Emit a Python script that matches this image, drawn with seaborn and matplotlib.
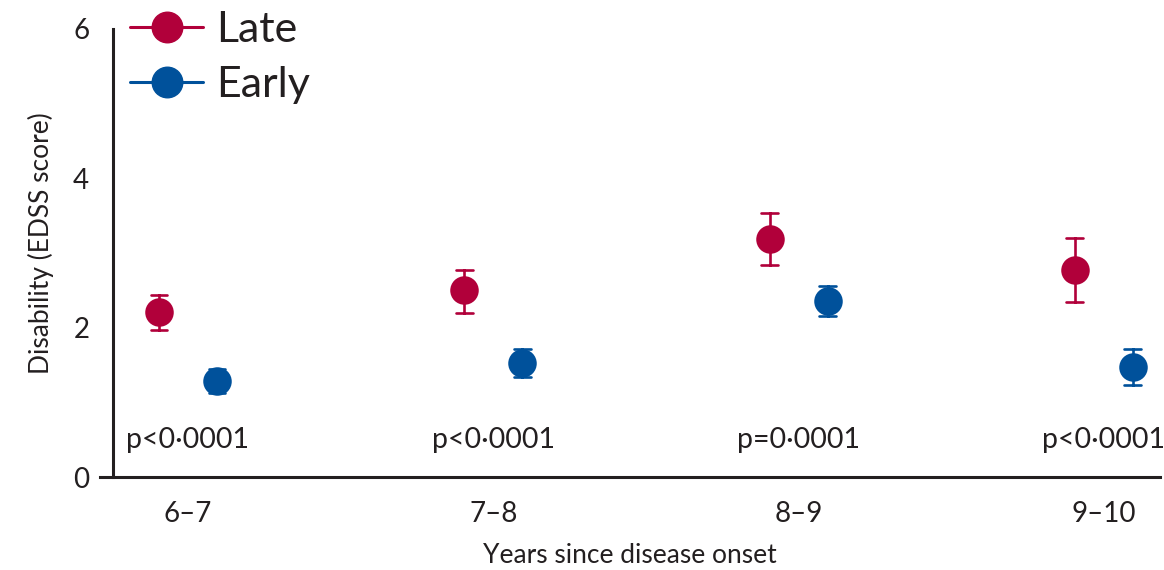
import numpy as np
import pandas as pd
import seaborn as sns
import matplotlib
matplotlib.use("Agg")
import matplotlib.pyplot as plt
from matplotlib.lines import Line2D

# ---- data ----
categories = ["6–7", "7–8", "8–9", "9–10"]
groups = ["Late", "Early"]
late_mean = [2.21, 2.50, 3.19, 2.77]
late_lo = [1.97, 2.20, 2.84, 2.34]
late_hi = [2.44, 2.77, 3.54, 3.20]
early_mean = [1.29, 1.53, 2.36, 1.47]
early_lo = [1.12, 1.34, 2.16, 1.23]
early_hi = [1.45, 1.71, 2.56, 1.71]
p_labels = ["p<0·0001", "p<0·0001", "p=0·0001", "p<0·0001"]

RED = "#B1003A"
BLUE = "#00519B"
DARK = "#231F20"

# long table: low / mean / high per cell; median -> mean, range -> CI
rows = []
for g, m, lo, hi in [("Late", late_mean, late_lo, late_hi),
                     ("Early", early_mean, early_lo, early_hi)]:
    for c, mv, lv, hv in zip(categories, m, lo, hi):
        for v in (lv, mv, hv):
            rows.append({"years": c, "group": g, "edss": v})
df = pd.DataFrame(rows)

sns.set_theme(style="white")
plt.rcParams["font.family"] = ["Lato", "DejaVu Sans"]

fig = plt.figure(figsize=(11.64, 5.70), dpi=100)
ax = fig.add_axes([100 / 1164, (570 - 477) / 570, 1060 / 1164, (477 - 10) / 570])

sns.pointplot(data=df, x="years", y="edss", hue="group",
              order=categories, hue_order=groups,
              palette=[RED, BLUE], estimator=np.median,
              errorbar=lambda v: (v.min(), v.max()),
              dodge=0.19, linestyle="none", markers="o",
              markersize=18.5, capsize=0.055,
              err_kws={"linewidth": 1.9}, legend=False, ax=ax)

ax.set_xlim(-0.288, 3.184)
ax.set_ylim(0, 6.254)
ax.set_yticks([0, 2, 4, 6])
ax.set_yticklabels(["0", "2", "4", "6"])

for s in ["top", "right"]:
    ax.spines[s].set_visible(False)
for s in ["left", "bottom"]:
    ax.spines[s].set_color(DARK)
    ax.spines[s].set_linewidth(2.2)
ax.spines["left"].set_position(("data", -0.2457))
ax.spines["left"].set_bounds(0, 6)

ax.tick_params(axis="both", length=11, width=2.0, color=DARK,
               labelsize=20, labelcolor=DARK, direction="out", pad=6)

ax.set_xlabel("Years since disease onset", fontsize=19, color=DARK, labelpad=12)
ax.set_ylabel("Disability (EDSS score)", fontsize=19, color=DARK, labelpad=14)

for i, t in enumerate(p_labels):
    ax.text(i, 0.5, t, ha="center", va="center", fontsize=20.5, color=DARK)

handles = [Line2D([0], [0], color=RED, marker="o", markersize=22, linewidth=2.2),
           Line2D([0], [0], color=BLUE, marker="o", markersize=22, linewidth=2.2)]
leg = ax.legend(handles, groups, loc="upper left", bbox_to_anchor=(0.012, 1.035),
                frameon=False, fontsize=31, handlelength=1.7, handletextpad=0.3,
                labelspacing=0.4, borderaxespad=0.0)
for t in leg.get_texts():
    t.set_color(DARK)

fig.savefig("out.png", dpi=100)
